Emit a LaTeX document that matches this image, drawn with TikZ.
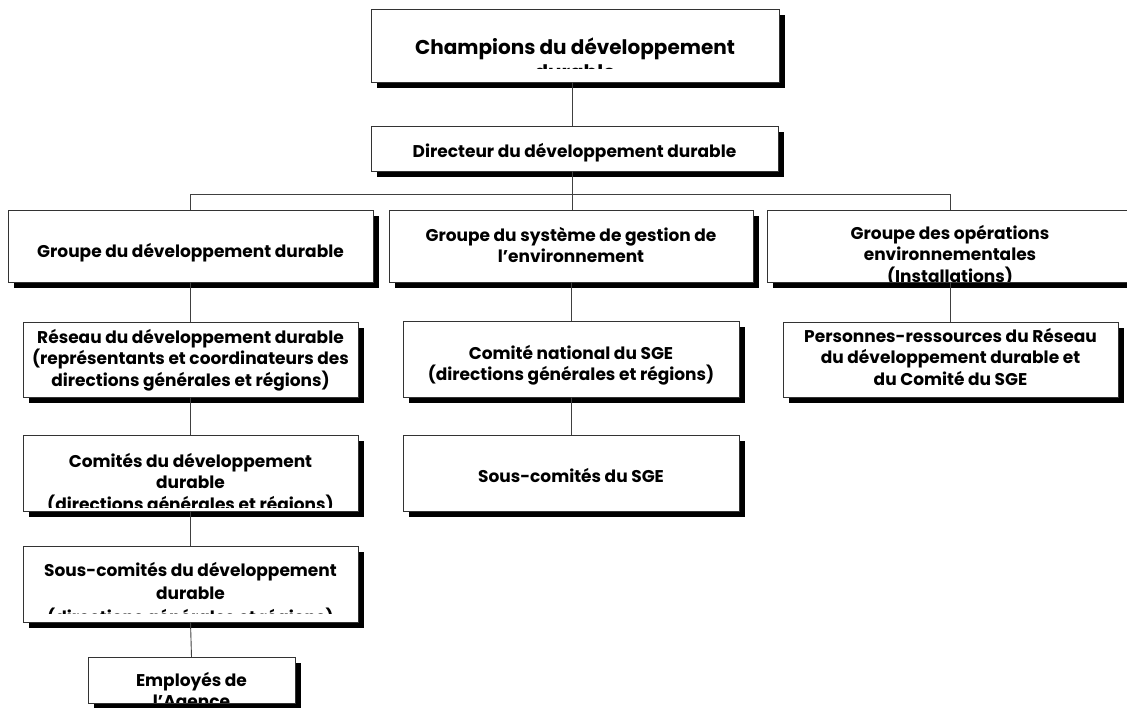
\documentclass[tikz,border=0pt]{standalone}
\usepackage{fontspec}
\setmainfont{Poppins Bold}
\tikzset{
  orgframe/.style={draw=black!80, line width=0.9pt, fill=white, inner sep=0pt, outer sep=0pt},
  shadowfill/.style={fill=black},
  conn/.style={draw=black!75, line width=0.9pt},
  lbl/.style={inner sep=0pt, anchor=base},
}
\newcommand\fnormal{\fontsize{17}{21.5}\selectfont}
\newcommand\fwide{\fontsize{17}{23.5}\selectfont}
\newcommand\fbig{\fontsize{20}{25}\selectfont}
% #1 name #2 left #3 top #4 right #5 bottom #6 first baseline #7 clip bottom #8 font #9 text
\newcommand\orgbox[9]{%
  \fill[shadowfill] (#2+6,#3+6) rectangle (#4+6,#5+6);
  \node[orgframe, minimum width={#4pt-#2pt}, minimum height={#5pt-#3pt}] (#1) at ({(#2+#4)/2},{(#3+#5)/2}) {};
  \begin{scope}
    \clip (#2+1,#3+1) rectangle (#4-1,#7-1);
    \node[lbl] (#1-t) at ({(#2+#4)/2},#6) {#8\parbox[t]{500pt}{\centering #9}};
  \end{scope}}
\begin{document}
\begin{tikzpicture}[x=1pt,y=-1pt]
\useasboundingbox[fill=white] (0,0) rectangle (1127,707);
\orgbox{champ}{371}{9}{779}{82}{54}{69}{\fbig}{Champions du développement\\durable}
\orgbox{dir}{371}{126}{778}{171}{157}{171}{\fnormal}{Directeur du développement durable}
\orgbox{gdd}{8}{210}{373}{282}{257}{282}{\fnormal}{Groupe du développement durable}
\orgbox{gsge}{389}{210}{753}{282}{241}{282}{\fnormal}{Groupe du système de gestion de\\l’environnement}
\orgbox{gops}{767}{210}{1133}{282}{239}{282}{\fnormal}{Groupe des opérations\\environnementales\\(Installations)}
\orgbox{reseau}{23}{322}{358}{397}{343}{397}{\fnormal}{Réseau du développement durable\\(représentants et coordinateurs des\\directions générales et régions)}
\orgbox{comites}{23}{435}{358}{511}{467}{508}{\fnormal}{Comités du développement\\durable\\(directions générales et régions)}
\orgbox{sousdd}{23}{546}{358}{622}{576}{614}{\fwide}{Sous-comités du développement\\durable\\(directions générales et régions)}
\orgbox{emp}{88}{657}{295}{703}{686}{703}{\fnormal}{Employés de\\l’Agence}
\orgbox{cnat}{403}{321}{739}{397}{359}{397}{\fnormal}{Comité national du SGE\\(directions générales et régions)}
\orgbox{sscsge}{403}{435}{739}{511}{482}{511}{\fnormal}{Sous-comités du SGE}
\orgbox{pers}{783}{322}{1118}{397}{342}{397}{\fnormal}{Personnes-ressources du Réseau\\du développement durable et\\du Comité du SGE}
\coordinate (spine) at (572,0);
\coordinate (rspine) at (950,0);
\draw[conn] (champ.south -| spine) -- (dir.north -| spine);
\draw[conn] (dir.south -| spine) -- (gsge.north -| spine);
\draw[conn] (gdd.north) -- ++(0,-16) -| (gops.north -| rspine);
\draw[conn] (gdd.south) -- (reseau.north);
\draw[conn] (reseau.south) -- (comites.north);
\draw[conn] (comites.south) -- (sousdd.north);
\draw[conn] (sousdd.south) -- (emp.north);
\draw[conn] (gsge.south) -- (cnat.north);
\draw[conn] (cnat.south) -- (sscsge.north);
\draw[conn] (gops.south -| rspine) -- (pers.north -| rspine);
\end{tikzpicture}
\end{document}
